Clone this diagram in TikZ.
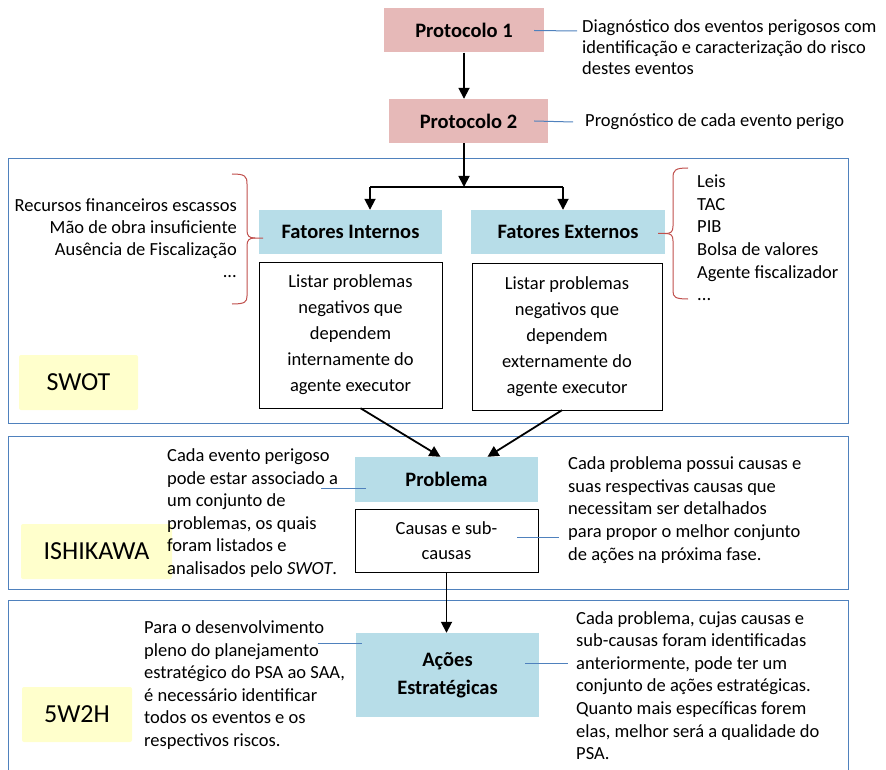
\documentclass[tikz,border=0pt]{standalone}
\usepackage{fontspec}
\setmainfont{Carlito}
\usetikzlibrary{arrows.meta}

\definecolor{protopink}{HTML}{E6B9B8}
\definecolor{fatorblue}{HTML}{B7DDE8}
\definecolor{toolyellow}{HTML}{FFFFCC}
\definecolor{frameblue}{HTML}{4F81BD}
\definecolor{bracered}{HTML}{C0504D}

\begin{document}
\begin{tikzpicture}[x=1pt, y=-1pt,
    every node/.style={font=\fontsize{18.5}{22.6}\selectfont},
    proto/.style={fill=protopink, minimum width=160pt, minimum height=44pt, font=\fontsize{20.5}{24}\selectfont\bfseries},
    fator/.style={fill=fatorblue, minimum height=44pt, font=\fontsize{20.5}{24}\selectfont\bfseries},
    lista/.style={draw, fill=white, align=center, font=\fontsize{18.5}{26}\selectfont},
    tool/.style={fill=toolyellow, rounded corners=2pt, minimum height=55pt, font=\fontsize{26}{30}\selectfont},
    nota/.style={align=left, anchor=west, inner sep=0pt},
    bloco/.style={draw=frameblue, line width=0.8pt},
    arr/.style={-{Triangle[length=11pt,width=11pt]}, line width=1.8pt},
    ligacao/.style={draw=frameblue, line width=1pt},
    chave/.style={draw=bracered, line width=1pt}]
    \useasboundingbox (0,0) rectangle (886,770);

    \draw[bloco] (8,158) rectangle (848,423);
    \draw[bloco] (8,436) rectangle (848,589);
    \draw[bloco] (8,600) rectangle (848,775);

    \node[proto] (p1) at (464,30.5) {Protocolo 1};
    \node[proto, minimum width=159pt] (p2) at (468.5,121) {Protocolo 2};
    \node[nota, font=\fontsize{18.5}{21}\selectfont] (t1) at (582,47)
        {Diagnóstico dos eventos perigosos com\\identificação e caracterização do risco\\destes eventos};
    \node[nota] (t2) at (585,122) {Prognóstico de cada evento perigo};
    \coordinate (c1) at (577,31);
    \coordinate (c2) at (573,122);
    \draw[ligacao] ([xshift=-10pt]p1.east) -- (c1);
    \draw[ligacao] ([xshift=-14pt]p2.east) -- (c2);
    \draw[arr] (p1.south) -- (p1.south |- p2.north);

    % SWOT
    \node[fator, minimum width=183pt] (fi) at (350.5,232) {Fatores Internos};
    \node[fator, minimum width=194pt] (fe) at (568,232) {Fatores Externos};
    \node[lista, minimum width=183pt, minimum height=146pt] (li) at (350.5,335)
        {Listar problemas\\negativos que\\dependem\\internamente do\\agente executor};
    \node[lista, minimum width=190pt, minimum height=147pt] (le) at (567,336.5)
        {Listar problemas\\negativos que\\dependem\\externamente do\\agente executor};
    \coordinate (split) at (464,187);
    \coordinate (splitL) at (370,187);
    \coordinate (splitR) at (563,187);
    \draw[arr] (p2.south -| split) -- (split);
    \draw[line width=1.2pt] (splitL) -- (splitR);
    \draw[arr] (splitL) -- (splitL |- fi.north);
    \draw[arr] (splitR) -- (splitR |- fe.north);
    \draw[chave] (232,174) .. controls (245,174) and (247,176) .. (247,184) -- (247,230)
        .. controls (247,236) and (249,238) .. (255,238) -- (263,238);
    \draw[chave] (255,238) .. controls (249,238) and (247,240) .. (247,246) -- (247,296)
        .. controls (247,302) and (245,304) .. (232,304);
    \draw[chave] (688,168) .. controls (675,168) and (673,170) .. (673,178) -- (673,226)
        .. controls (673,232) and (671,233.5) .. (665,233.5) -- (658,233.5);
    \draw[chave] (665,233.5) .. controls (671,233.5) and (673,235) .. (673,241) -- (673,291)
        .. controls (673,297) and (675,299) .. (688,299);
    \node[nota, anchor=east, align=right, font=\fontsize{18.5}{22}\selectfont] (intlist) at (237,238)
        {Recursos financeiros escassos\\Mão de obra insuficiente\\Ausência de Fiscalização\\...};
    \node[nota] (extlist) at (697,238)
        {Leis\\TAC\\PIB\\Bolsa de valores\\Agente fiscalizador\\...};
    \node[tool, minimum width=119pt] (swot) at (78.5,382.5) {SWOT};

    % ISHIKAWA
    \node[fator, minimum width=183pt, minimum height=45pt] (prob) at (446.5,479.5) {Problema};
    \node[lista, minimum width=183pt, minimum height=63pt, font=\fontsize{18.5}{25}\selectfont] (causas) at (446.5,540.5)
        {Causas e sub-\\causas};
    \draw[arr] ([xshift=10pt]li.south) -- ([xshift=-6pt]prob.north);
    \draw[arr] ([xshift=-5pt]le.south) -- ([xshift=41pt]prob.north);
    \node[tool, minimum width=151pt] (ishikawa) at (96.5,551.5) {ISHIKAWA};
    \node[nota] (t3) at (167,513)
        {Cada evento perigoso\\pode estar associado a\\um conjunto de\\problemas, os quais\\foram listados e\\analisados pelo \textit{SWOT}.};
    \node[nota] (t4) at (568,510)
        {Cada problema possui causas e\\suas respectivas causas que\\necessitam ser detalhados\\para propor o melhor conjunto\\de ações na próxima fase.};
    \coordinate (c3) at (321,488);
    \coordinate (c4) at (559,537);
    \draw[ligacao] ([xshift=11pt,yshift=-8.5pt]prob.west) -- (c3);
    \draw[ligacao] ([xshift=-21pt,yshift=3.5pt]causas.east) -- (c4);

    % 5W2H
    \node[fator, minimum width=183pt, minimum height=84pt, align=center, font=\fontsize{20.5}{28}\selectfont\bfseries] (acoes) at (447.5,675)
        {Ações\\Estratégicas};
    \draw[arr] (causas.south) -- (causas.south |- acoes.north);
    \node[tool, minimum width=110pt] (cincow) at (77,714.5) {5W2H};
    \node[nota] (t5) at (144,685)
        {Para o desenvolvimento\\pleno do planejamento\\estratégico do PSA ao SAA,\\é necessário identificar\\todos os eventos e os\\respectivos riscos.};
    \node[nota] (t6) at (576,685.5)
        {Cada problema, cujas causas e\\sub-causas foram identificadas\\anteriormente, pode ter um\\conjunto de ações estratégicas.\\Quanto mais específicas forem\\elas, melhor será a qualidade do\\PSA.};
    \coordinate (c5) at (318,643);
    \coordinate (c6) at (568,663);
    \draw[ligacao] ([xshift=6pt,yshift=32pt]acoes.west) -- (c5);
    \draw[ligacao] ([xshift=-14pt,yshift=12pt]acoes.east) -- (c6);
\end{tikzpicture}
\end{document}
